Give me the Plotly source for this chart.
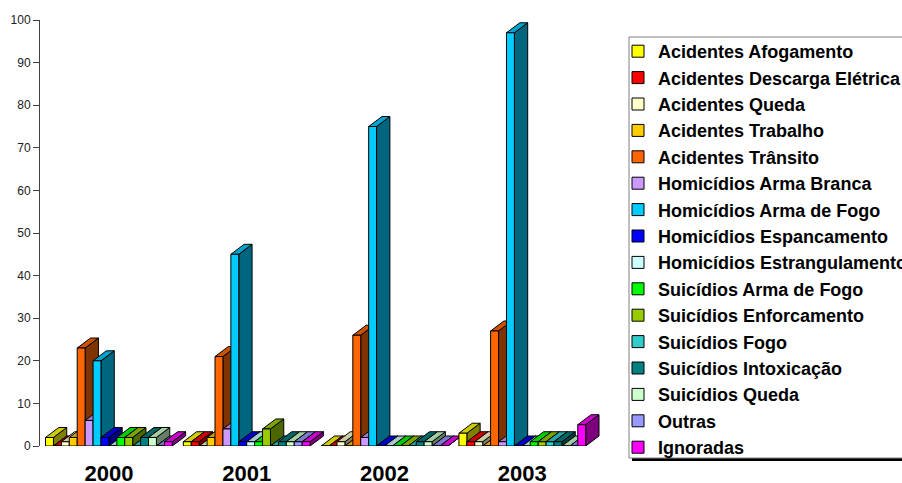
import plotly.graph_objects as go

# ---------------- data ----------------
years = ["2000", "2001", "2002", "2003"]

series_names = [
    "Acidentes Afogamento",
    "Acidentes Descarga Elétrica",
    "Acidentes Queda",
    "Acidentes Trabalho",
    "Acidentes Trânsito",
    "Homicídios Arma Branca",
    "Homicídios Arma de Fogo",
    "Homicídios Espancamento",
    "Homicídios Estrangulamento",
    "Suicídios Arma de Fogo",
    "Suicídios Enforcamento",
    "Suicídios Fogo",
    "Suicídios Intoxicação",
    "Suicídios Queda",
    "Outras",
    "Ignoradas",
]

acid_afogamento = [2, 1, 0, 3]
acid_descarga = [0, 1, 0, 1]
acid_queda = [1, 0, 1, 1]
acid_trabalho = [2, 2, 0, 0]
acid_transito = [23, 21, 26, 27]
hom_arma_branca = [6, 4, 2, 1]
hom_arma_fogo = [20, 45, 75, 97]
hom_espancamento = [2, 1, 0, 0]
hom_estrangulamento = [0, 1, 0, 0]
suic_arma_fogo = [2, 1, 0, 1]
suic_enforcamento = [2, 4, 0, 1]
suic_fogo = [0, 0, 0, 1]
suic_intoxicacao = [2, 1, 1, 1]
suic_queda = [2, 1, 1, 0]
outras = [0, 1, 0, 0]
ignoradas = [1, 1, 0, 5]

series_values = [
    acid_afogamento, acid_descarga, acid_queda, acid_trabalho, acid_transito,
    hom_arma_branca, hom_arma_fogo, hom_espancamento, hom_estrangulamento,
    suic_arma_fogo, suic_enforcamento, suic_fogo, suic_intoxicacao,
    suic_queda, outras, ignoradas,
]

colors = [
    "#FFFF00", "#FF0000", "#FFFFCC", "#FFCC00", "#FF6600", "#CC99FF",
    "#00CCFF", "#0000FF", "#CCFFFF", "#00FF00", "#99CC00", "#33CCCC",
    "#008080", "#CCFFCC", "#9999FF", "#FF00FF",
]

# ---------------- style / geometry ----------------
FONT = "Arial, Liberation Sans, sans-serif"
W, H = 902, 483
ML, MR, MT, MB = 40, 297, 20, 37
XR = [-0.5, 3.6]
YR = [0, 100]
BARGAP = 0.08
n = len(series_names)
group_w = 1 - BARGAP
bw = group_w / n
plot_w = W - ML - MR
plot_h = H - MT - MB
px_x = plot_w / (XR[1] - XR[0])
px_y = plot_h / (YR[1] - YR[0])
DX = 13.3 / px_x      # depth offset in x data units
DY = 10.0 / px_y      # depth offset in y data units


def shade(hexc, f):
    hexc = hexc.lstrip("#")
    r, g, b = (int(hexc[i:i + 2], 16) for i in (0, 2, 4))
    return "#%02X%02X%02X" % (int(r * f), int(g * f), int(b * f))


fig = go.Figure()
x_idx = list(range(len(years)))
for name, vals, col in zip(series_names, series_values, colors):
    fig.add_trace(go.Bar(
        x=x_idx, y=vals, name=name,
        marker=dict(color=col, line=dict(color="black", width=1)),
    ))

# depth faces (side + top) computed from the data, painter order left->right
shapes = []
for i in x_idx:
    for k in range(n):
        v = series_values[k][i]
        x0 = i - group_w / 2 + k * bw
        x1 = x0 + bw
        side = f"M{x1},0 L{x1 + DX},{DY} L{x1 + DX},{v + DY} L{x1},{v} Z"
        top = f"M{x0},{v} L{x1},{v} L{x1 + DX},{v + DY} L{x0 + DX},{v + DY} Z"
        shapes.append(dict(type="path", path=side, xref="x", yref="y",
                           fillcolor=shade(colors[k], 0.5),
                           line=dict(color="black", width=1), layer="below"))
        shapes.append(dict(type="path", path=top, xref="x", yref="y",
                           fillcolor=shade(colors[k], 0.8),
                           line=dict(color="black", width=1), layer="below"))


def px2paper_x(p):
    return (p - ML) / plot_w


def px2paper_y(p):
    return (H - MB - p) / plot_h


# legend frame: shadow + white box with grey border (extends past right edge)
shapes.append(dict(type="rect", xref="paper", yref="paper",
                   x0=px2paper_x(632), x1=px2paper_x(930),
                   y0=px2paper_y(461), y1=px2paper_y(45),
                   fillcolor="black", line=dict(width=0), layer="above"))
shapes.append(dict(type="rect", xref="paper", yref="paper",
                   x0=px2paper_x(629), x1=px2paper_x(925),
                   y0=px2paper_y(458), y1=px2paper_y(37),
                   fillcolor="white", line=dict(color="#808080", width=1),
                   layer="above"))

fig.update_layout(
    width=W, height=H,
    margin=dict(l=ML, r=MR, t=MT, b=MB, autoexpand=False),
    paper_bgcolor="white", plot_bgcolor="white",
    barmode="group", bargap=BARGAP, bargroupgap=0,
    shapes=shapes,
    font=dict(family=FONT, color="black"),
    xaxis=dict(range=XR, tickvals=x_idx, ticktext=years,
               showline=False, showgrid=False, zeroline=False,
               ticks="outside", ticklen=8, tickcolor="rgba(0,0,0,0)",
               tickfont=dict(family=FONT, size=22, color="black", weight="bold")),
    yaxis=dict(range=YR, dtick=10, showline=True, linecolor="#404040",
               linewidth=1, ticks="outside", ticklen=6, tickcolor="#404040",
               showgrid=False, zeroline=False,
               tickfont=dict(family=FONT, size=12, color="#222222")),
    legend=dict(x=px2paper_x(629), y=px2paper_y(33), xanchor="left",
                yanchor="top", bgcolor="rgba(0,0,0,0)",
                borderwidth=0, tracegroupgap=0, indentation=-11,
                font=dict(family=FONT, size=18, color="black", weight="bold")),
    showlegend=True,
)

fig.write_html("out.html",
               config={"displayModeBar": False},
               post_script="document.body.style.margin='0px';"
                           "document.body.style.overflow='hidden';")
